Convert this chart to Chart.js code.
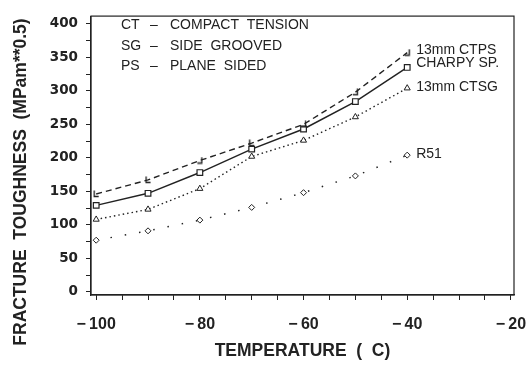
<!DOCTYPE html>
<html>
<head>
<meta charset="utf-8">
<script src="https://cdn.jsdelivr.net/npm/chart.js@4"></script>
<style>
  body { margin: 0; background: #fff; }
  canvas { display: block; }
</style>
</head>
<body>
<canvas id="toughness" width="529" height="367"></canvas>
<script>
// temperature (C) and fracture toughness (MPa m**0.5)
const temps = [-100, -90, -80, -70, -60, -50, -40]
const ctps = [146, 167, 196, 222, 250, 298, 357]
const charpy = [129, 147, 178, 213, 243, 284, 335]
const ctsg = [108, 123, 154, 202, 226, 261, 304]
const r51 = [77, 91, 107, 126, 148, 173, 204]

const seriesNames = ['13mm CTPS', 'CHARPY SP.', '13mm CTSG', 'R51']
const legendLines = [
  ['CT', 'COMPACT  TENSION'],
  ['SG', 'SIDE  GROOVED'],
  ['PS', 'PLANE  SIDED']
]
const xTitle = 'TEMPERATURE  (  C)'
const yTitle = 'FRACTURE  TOUGHNESS  (MPam**0.5)'

const ink = '#222'

function toPoints(vals){
  return vals.map((v, i) => ({x: temps[i], y: v}))
}

// little "L" / "J" marks used on the CTPS curve
function hookMark(flip){
  const c = document.createElement('canvas')
  c.width = 7; c.height = 8
  const g = c.getContext('2d')
  g.strokeStyle = ink
  g.lineWidth = 1.4
  g.beginPath()
  if(!flip){ g.moveTo(1.5, 0.5); g.lineTo(1.5, 6.5); g.lineTo(6, 6.5) }
  else { g.moveTo(5.5, 0.5); g.lineTo(5.5, 6.5); g.lineTo(1, 6.5) }
  g.stroke()
  return c
}
const markL = hookMark(false)
const markJ = hookMark(true)

const textFont = '14px "Liberation Sans", Arial, sans-serif'

const annotations = {
  id: 'annotations',
  afterDraw(chart){
    const {ctx, chartArea: a, scales: {x, y}} = chart
    ctx.save()
    // frame
    ctx.strokeStyle = ink
    ctx.lineWidth = 1.2
    ctx.strokeRect(a.left, a.top, a.right - a.left, a.bottom - a.top)

    ctx.fillStyle = ink
    ctx.font = textFont
    ctx.textBaseline = 'middle'
    ctx.textAlign = 'left'
    const rowY = [25, 46, 66]
    legendLines.forEach((row, i) => {
      ctx.fillText(row[0], a.left + 30, rowY[i])
      ctx.fillText('\u2013', a.left + 59, rowY[i])
      ctx.fillText(row[1], a.left + 79, rowY[i])
    })

    // curve names at the right end
    const labelY = [50, 63, 87, 154]
    const lx = x.getPixelForValue(-40) + 9
    seriesNames.forEach((name, i) => ctx.fillText(name, lx, labelY[i]))

    // y axis title
    ctx.font = 'bold 17.5px "Liberation Sans", Arial, sans-serif'
    ctx.textAlign = 'center'
    ctx.translate(21, 182)
    ctx.rotate(-Math.PI / 2)
    ctx.fillText(yTitle, 0, 0)
    ctx.restore()
  }
}

const ctx = document.getElementById('toughness').getContext('2d')
const toughnessChart = new Chart(ctx, {
  type: 'line',
  data: {
    datasets: [{
      label: seriesNames[0],
      data: toPoints(ctps),
      borderColor: ink,
      borderWidth: 1.4,
      borderDash: [6, 4],
      pointStyle: c => c.dataIndex < 2 || c.dataIndex === 3 ? markL : markJ,
      pointRadius: 4
    }, {
      label: seriesNames[1],
      data: toPoints(charpy),
      borderColor: ink,
      borderWidth: 1.5,
      pointStyle: 'rect',
      pointRadius: 4,
      pointBackgroundColor: '#fff',
      pointBorderColor: ink,
      pointBorderWidth: 1.2
    }, {
      label: seriesNames[2],
      data: toPoints(ctsg),
      borderColor: ink,
      borderWidth: 1.4,
      borderDash: [1.5, 3],
      pointStyle: 'triangle',
      pointRadius: 3.5,
      pointBackgroundColor: '#fff',
      pointBorderColor: ink,
      pointBorderWidth: 1
    }, {
      label: seriesNames[3],
      data: toPoints(r51),
      borderColor: ink,
      borderWidth: 1.5,
      borderDash: [1.5, 13],
      pointStyle: 'rectRot',
      pointRadius: 3,
      pointBackgroundColor: '#fff',
      pointBorderColor: ink,
      pointBorderWidth: 1
    }]
  },
  options: {
    responsive: false,
    animation: false,
    layout: { padding: { top: 7, right: 15, left: 0, bottom: 0 } },
    plugins: {
      legend: { display: false },
      tooltip: { enabled: false }
    },
    elements: { line: { tension: 0, fill: false } },
    scales: {
      x: {
        type: 'linear',
        min: -101,
        max: -19.4,
        afterFit: s => { s.height = 72; s.paddingLeft = 0; s.paddingRight = 0 },
        border: { display: true, color: ink, width: 1.2 },
        grid: { drawOnChartArea: false, tickLength: 5, tickColor: ink },
        ticks: {
          stepSize: 5,
          includeBounds: false,
          autoSkip: false,
          maxRotation: 0,
          padding: 15,
          color: ink,
          font: { family: '"Liberation Sans", Arial, sans-serif', size: 16, weight: 'bold' },
          callback: v => v % 20 === 0 ? (v < 0 ? '\u2212\u2009' + Math.abs(v) : String(v)) : ''
        },
        title: {
          display: true,
          text: xTitle,
          color: ink,
          font: { family: '"Liberation Sans", Arial, sans-serif', size: 17.5, weight: 'bold' },
          padding: { top: 0, bottom: 5 }
        }
      },
      y: {
        min: -4.8,
        max: 411.6,
        afterFit: s => { s.width = 91 },
        border: { display: true, color: ink, width: 1.2 },
        grid: { drawOnChartArea: false, tickLength: 5, tickColor: ink },
        ticks: {
          stepSize: 25,
          includeBounds: false,
          autoSkip: false,
          padding: 8,
          color: ink,
          font: { family: '"DejaVu Sans", sans-serif', size: 13.5, weight: 'bold' },
          callback: v => v % 50 === 0 ? String(v) : ''
        }
      }
    }
  },
  plugins: [annotations]
})
</script>
</body>
</html>
